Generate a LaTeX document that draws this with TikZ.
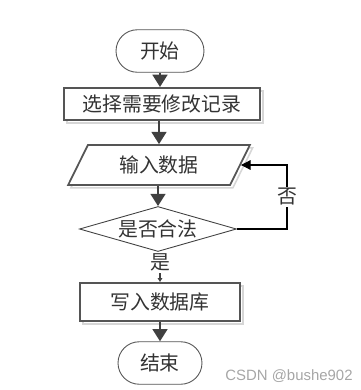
\documentclass[tikz,border=0pt]{standalone}
\usepackage{fontspec}
\setmainfont{Noto Sans CJK SC}
\newfontfamily\markfont{Liberation Sans}
\usetikzlibrary{arrows.meta, shapes.geometric, shapes.misc, shadows}
\definecolor{flowline}{HTML}{404040}
\definecolor{flowedge}{HTML}{555555}
\definecolor{flowshade}{HTML}{D6D6D6}
\definecolor{flowtext}{HTML}{333333}

\begin{document}
\begin{tikzpicture}[
    x=0.02cm, y=-0.02cm,
    >=Stealth,
    flowfont/.style={font=\fontsize{11.3}{13}\selectfont, text=flowtext},
    shade3d/.style={drop shadow={shadow xshift=1.6pt, shadow yshift=-1.6pt, fill=none, draw=flowshade, opacity=1, line width=0.9pt}},
    terminal/.style={rounded rectangle, draw=flowedge, line width=0.5pt, fill=white, flowfont, minimum width=#1, minimum height=0.85cm, inner sep=0pt},
    process/.style={rectangle, draw=flowedge, line width=1.2pt, fill=white, flowfont, shade3d, minimum height=#1, inner sep=0pt},
    io/.style={trapezium, trapezium left angle=59, trapezium right angle=121, trapezium stretches=true, draw=flowedge, line width=1pt, fill=white, flowfont, shade3d, minimum width=3.64cm, minimum height=0.8cm, inner sep=0pt},
    decision/.style={diamond, aspect=3.5, draw=flowline, line width=0.5pt, fill=white, flowfont, minimum width=3.14cm, minimum height=0.9cm, inner sep=0pt},
    flowarrow/.style={-{Triangle[width=8.5pt, length=7pt]}, draw=flowline, line width=1.1pt},
    backarrow/.style={-{Triangle[width=5.5pt, length=5.5pt]}, draw=black, line width=0.6pt},
    yesarrow/.style={-{Triangle[width=2.6pt, length=2.2pt]}, draw=flowline, line width=0.6pt},
]
\useasboundingbox (0,0) rectangle (361,390);

% Start / end
\node[terminal=1.76cm] (start) at (160,51) {开始};
\node[terminal=1.68cm] (stop) at (160,363) {结束};

% Steps
\node[process=0.64cm, minimum width=3.92cm] (select) at (162,104) {选择需要修改记录};
\node[io] (input) at (159,165) {输入数据};
\node[decision] (check) at (158,229) {是否合法};
\node[process=0.76cm, minimum width=3.2cm] (write) at (160,302) {写入数据库};

% Arrows
\draw[flowarrow] (start.south) -- (start.south |- select.north);
\draw[flowarrow] (select.south -| input.north) -- (input.north);
\draw[flowarrow] (input.south -| check.north) -- (check.north);
\draw[yesarrow] (check.south -| write.north) -- node[flowfont, fill=white, inner sep=1pt, pos=0.35] (yes) {是} (write.north);
\draw[flowarrow] (write.south) -- (stop.north);

% Loop back
\coordinate (loop) at (287,229);
\draw[backarrow] (check.east) -- (loop) |- node[flowfont, fill=white, inner sep=1pt, pos=0.25] (no) {否} (input.east);

% Watermark
\node[font=\markfont\fontsize{8.5}{10}\selectfont, text=gray!70] (mark) at (289,376) {CSDN @bushe902};

\end{tikzpicture}
\end{document}
